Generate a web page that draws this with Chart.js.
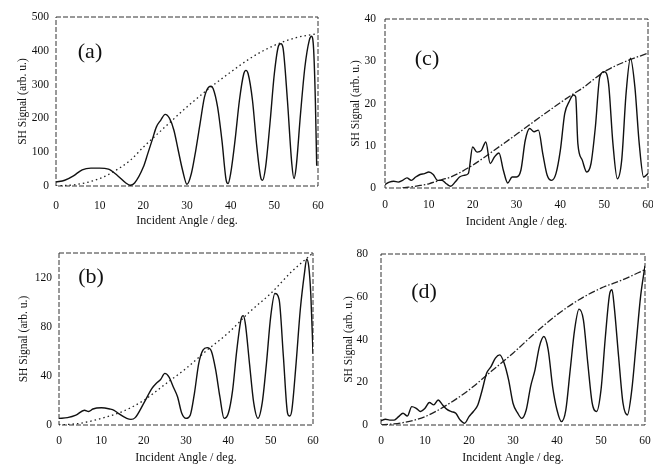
<!DOCTYPE html>
<html>
<head>
<meta charset="utf-8">
<script src="https://cdn.jsdelivr.net/npm/chart.js@4.4.0/dist/chart.umd.min.js"></script>
<style>
  body { margin: 0; background: #fff; }
  .panel { position: absolute; }
</style>
</head>
<body>
<div class="panel" style="left:0;top:0"><canvas id="chartA" width="326" height="232"></canvas></div>
<div class="panel" style="left:326px;top:0"><canvas id="chartC" width="327" height="232"></canvas></div>
<div class="panel" style="left:0;top:232px"><canvas id="chartB" width="326" height="233"></canvas></div>
<div class="panel" style="left:326px;top:232px"><canvas id="chartD" width="327" height="233"></canvas></div>
<script>
// x ticks shared by all panels
const xTicks = [0, 10, 20, 30, 40, 50, 60];

// panel (a)
const angleA = [0, 2, 4, 6, 8, 10, 12, 14, 16, 17, 18, 20, 21, 22, 23, 24, 25, 26, 27, 28, 29, 30, 31, 32, 33, 34, 35, 35.5, 36, 37, 38, 39, 39.4, 40, 41, 42, 43, 43.5, 44, 45, 46, 47, 47.3, 48, 49, 50, 51, 51.5, 52, 53, 54, 54.5, 55, 56, 57, 58, 58.5, 59, 59.4, 59.7];
const signalA = [12, 17, 30, 48, 53, 53, 50, 32, 9, 2, 9, 56, 95, 135, 175, 195, 212, 200, 165, 105, 46, 5, 37, 105, 185, 263, 293, 295, 288, 234, 135, 15, 7, 37, 135, 253, 332, 342, 332, 253, 115, 20, 17, 56, 185, 332, 416, 421, 408, 253, 66, 22, 56, 214, 352, 431, 443, 404, 250, 60];
const envAngleA = [0, 5, 10, 13, 17, 20, 25, 30, 35, 40, 45, 50, 55, 60];
const envA = [0, 5, 22, 41, 76, 115, 175, 234, 288, 337, 382, 416, 439, 451];
const yTicksA = [0, 100, 200, 300, 400, 500];

// panel (b)
const angleB = [0, 2, 4, 6, 7, 8, 10, 12, 13, 14, 16, 17, 18, 20, 22, 23, 24, 25, 26, 27, 28, 29, 30, 31, 32, 33, 34, 35, 36, 37, 38, 39, 40, 41, 42, 43, 43.5, 44, 45, 46, 47, 48, 49, 50, 51, 52, 53, 54, 54.5, 55, 56, 57, 58, 58.5, 59, 59.5, 60];
const signalB = [5.4, 6, 8, 12, 11, 13, 14, 13, 12, 9.5, 5.4, 4.6, 6, 17.6, 30, 34, 37, 42, 39, 31, 23, 9.5, 5.4, 8, 26, 50, 61, 63, 60, 45, 23, 5.4, 9.5, 28, 61, 86, 89, 83, 50, 18, 5.4, 18, 50, 88, 107, 102, 56, 9.5, 7.3, 12, 50, 94, 124, 135, 129, 105, 58];
const envAngleB = [0, 5, 10, 15, 20, 25, 30, 35, 40, 45, 50, 55, 60];
const envB = [0, 1.4, 5.4, 11, 20, 33, 46, 61, 75, 92, 107, 125, 140];
const yTicksB = [0, 40, 80, 120];

// panel (c)
const angleC = [0, 1, 2, 3, 4, 5, 6, 7, 8, 9, 10, 11, 12, 13, 14, 15, 16, 17, 18, 19, 20, 21, 22, 23, 24, 25, 26, 27, 28, 29, 30, 31, 32, 33, 34, 35, 36, 37, 38, 39, 40, 41, 42, 43, 43.5, 44, 45, 46, 47, 48, 49, 50, 51, 52, 53, 54, 55, 56, 57, 58, 59, 60];
const signalC = [0.8, 1.4, 1.6, 1.4, 1.8, 2.4, 1.8, 2.6, 3.2, 3.4, 3.8, 3.2, 1.8, 1.8, 1.0, 0.4, 1.4, 2.6, 3.0, 3.4, 9.7, 8.5, 8.9, 10.9, 5.8, 7.4, 8.3, 4.2, 1.2, 2.6, 2.6, 4.2, 11.3, 14.1, 13.3, 13.7, 8.1, 3.0, 1.8, 3.4, 8.9, 17.6, 20.4, 22.0, 21.6, 10.5, 6.6, 3.8, 5.8, 14.5, 26.3, 27.5, 24.7, 10.5, 2.2, 6.6, 22.4, 30.7, 24.0, 10.5, 2.6, 3.4];
const envAngleC = [4, 8, 10, 13, 15, 20, 25, 30, 35, 40, 43, 45, 50, 55, 60];
const envC = [0, 0.6, 1.0, 2.0, 2.6, 5.4, 9.0, 12.7, 16.5, 20.2, 22.3, 23.6, 27.5, 30.0, 31.9];
const yTicksC = [0, 10, 20, 30, 40];

// panel (d)
const angleD = [0, 1, 2, 3, 4, 5, 6, 7, 8, 9, 10, 11, 12, 13, 14, 15, 16, 17, 18, 19, 20, 21, 22, 23, 24, 25, 26, 27, 28, 29, 30, 31, 32, 33, 34, 35, 36, 37, 38, 39, 40, 41, 42, 43, 44, 45, 46, 47, 48, 49, 50, 51, 52, 52.5, 53, 54, 55, 56, 57, 58, 59, 60];
const signalD = [2, 2.7, 2.3, 2.3, 3.9, 5.5, 4.2, 8.6, 7.8, 6.3, 7.8, 10.5, 9.4, 11.7, 9.4, 7.3, 6.3, 5.5, 2.3, 0.8, 3.9, 6.3, 9.4, 16.4, 24.2, 27.3, 31.3, 32.8, 28.9, 21.1, 10.2, 5.8, 3.1, 7.0, 18, 25.8, 36.7, 41.4, 35.2, 18, 7.0, 1.6, 7.0, 25.8, 44.5, 54.2, 49.2, 28.9, 10.2, 6.3, 16.4, 41.4, 61.7, 63.3, 55.5, 32, 10.2, 4.7, 16.4, 38.3, 60.2, 74.5];
const envAngleD = [0, 5, 10, 15, 20, 25, 30, 35, 40, 45, 50, 55, 60];
const envD = [0, 1.1, 3.9, 9.4, 16.4, 25, 33.6, 43, 51.6, 58.6, 64, 68, 72.7];
const yTicksD = [0, 20, 40, 60, 80];

const serif = '"Liberation Serif", "DejaVu Serif", serif';
const inkColor = "#111";

function toPoints(xs, ys) {
  return xs.map(function(x, i) {
    return { x: x, y: ys[i] };
  });
}

// dashed box round the plot and the panel letter
const framePlugin = {
  id: "frame",
  beforeDatasetsDraw(chart, args, opts) {
    const ctx = chart.ctx;
    const a = chart.chartArea;
    ctx.save();
    ctx.strokeStyle = "#333";
    ctx.lineWidth = 1;
    ctx.setLineDash([5, 2]);
    ctx.strokeRect(a.left, a.top, a.right - a.left, a.bottom - a.top);
    ctx.restore();
  },
  afterDatasetsDraw(chart, args, opts) {
    const ctx = chart.ctx;
    const a = chart.chartArea;
    ctx.save();
    ctx.font = "22px " + serif;
    ctx.fillStyle = "#111";
    ctx.textAlign = "center";
    ctx.textBaseline = "middle";
    ctx.fillText(opts.label, a.left + opts.dx, a.top + opts.dy);
    ctx.restore();
  }
};

function makeChart(canvasId, p) {
  return new Chart(document.getElementById(canvasId), {
    type: "line",
    data: {
      datasets: [
        {
          data: toPoints(p.angles, p.signal),
          borderColor: inkColor,
          borderWidth: 1.4,
          pointRadius: 0,
          cubicInterpolationMode: "monotone"
        },
        {
          data: toPoints(p.envAngles, p.envelope),
          borderColor: "#222",
          borderWidth: 1.3,
          borderDash: p.dash,
          pointRadius: 0,
          cubicInterpolationMode: "monotone"
        }
      ]
    },
    options: {
      responsive: false,
      animation: false,
      layout: { padding: p.pad },
      plugins: {
        legend: { display: false },
        tooltip: { enabled: false },
        frame: { label: p.label, dx: p.labelDx, dy: p.labelDy }
      },
      scales: {
        x: {
          type: "linear",
          min: 0,
          max: 60,
          afterBuildTicks: function(axis) {
            axis.ticks = xTicks.map(v => ({ value: v }));
          },
          afterFit: function(axis) {
            axis.height = p.xHeight;
            axis.paddingLeft = 0;
            axis.paddingRight = 0;
          },
          grid: { display: false, drawTicks: false },
          border: { display: false },
          ticks: { padding: p.xTickPad, maxRotation: 0, color: inkColor, font: { family: serif, size: 11.5 } },
          title: {
            display: true,
            text: "Incident Angle / deg.",
            color: inkColor,
            font: { family: serif, size: 12 },
            padding: { top: 0, bottom: p.xTitlePad }
          }
        },
        y: {
          min: 0,
          max: p.yMax,
          afterBuildTicks: function(axis) {
            axis.ticks = p.yTicks.map(v => ({ value: v }));
          },
          afterFit: function(axis) {
            axis.width = p.yWidth;
            axis.paddingTop = 0;
            axis.paddingBottom = 0;
          },
          grid: { display: false, drawTicks: false },
          border: { display: false },
          ticks: { padding: p.yTickPad, color: inkColor, font: { family: serif, size: 11.5 } },
          title: {
            display: true,
            text: "SH Signal (arb. u.)",
            color: inkColor,
            font: { family: serif, size: 11.5 },
            padding: { top: p.yTitlePad, bottom: p.yTitlePad }
          }
        }
      }
    },
    plugins: [framePlugin]
  });
}

makeChart("chartA", {
  angles: angleA, signal: signalA, envAngles: envAngleA, envelope: envA,
  dash: [1.5, 3], yMax: 500, yTicks: yTicksA,
  pad: { left: 0, top: 17, right: 8, bottom: 0 },
  yWidth: 56, xHeight: 46, xTickPad: 13, xTitlePad: 4, yTitlePad: 16, yTickPad: 7,
  label: "(a)", labelDx: 34, labelDy: 35
});

makeChart("chartC", {
  angles: angleC, signal: signalC, envAngles: envAngleC, envelope: envC,
  dash: [7, 2, 1.5, 2], yMax: 40, yTicks: yTicksC,
  pad: { left: 0, top: 19, right: 5, bottom: 0 },
  yWidth: 59, xHeight: 44, xTickPad: 10, xTitlePad: 3, yTitlePad: 23, yTickPad: 9,
  label: "(c)", labelDx: 42, labelDy: 40
});

makeChart("chartB", {
  angles: angleB, signal: signalB, envAngles: envAngleB, envelope: envB,
  dash: [1.5, 3], yMax: 140, yTicks: yTicksB,
  pad: { left: 0, top: 21, right: 13, bottom: 0 },
  yWidth: 59, xHeight: 40, xTickPad: 9, xTitlePad: 0, yTitlePad: 17, yTickPad: 7,
  label: "(b)", labelDx: 32, labelDy: 24
});

makeChart("chartD", {
  angles: angleD, signal: signalD, envAngles: envAngleD, envelope: envD,
  dash: [7, 2, 1.5, 2], yMax: 80, yTicks: yTicksD,
  pad: { left: 0, top: 22, right: 8, bottom: 0 },
  yWidth: 55, xHeight: 40, xTickPad: 9, xTitlePad: 0, yTitlePad: 16, yTickPad: 13,
  label: "(d)", labelDx: 43, labelDy: 38
});
</script>
</body>
</html>
